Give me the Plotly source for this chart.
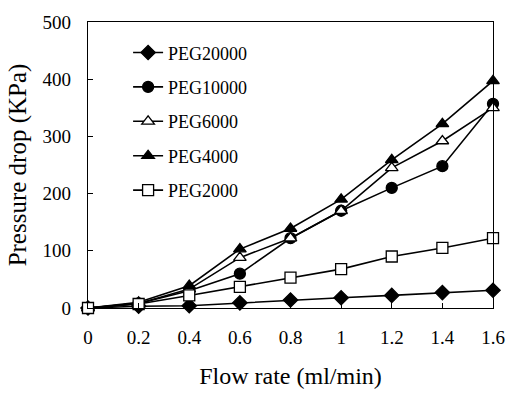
import plotly.graph_objects as go

flow = [0, 0.2, 0.4, 0.6, 0.8, 1.0, 1.2, 1.4, 1.6]
peg20000 = [0, 3, 4, 9, 14, 18, 22, 27, 31]
peg10000 = [0, 8, 30, 60, 122, 170, 210, 248, 357]
peg6000 = [0, 8, 33, 88, 122, 170, 245, 292, 350]
peg4000 = [0, 10, 39, 103, 139, 190, 259, 322, 397]
peg2000 = [0, 7, 22, 37, 53, 68, 90, 105, 122]

x_ticks = [0, 0.2, 0.4, 0.6, 0.8, 1, 1.2, 1.4, 1.6]
x_ticktext = ["0", "0.2", "0.4", "0.6", "0.8", "1", "1.2", "1.4", "1.6"]
y_ticks = [0, 100, 200, 300, 400, 500]

series = [
    ("PEG20000", peg20000, "diamond", "black", 11),
    ("PEG10000", peg10000, "circle", "black", 11),
    ("PEG6000", peg6000, "triangle-up", "white", 11),
    ("PEG4000", peg4000, "triangle-up", "black", 11),
    ("PEG2000", peg2000, "square", "white", 11),
]

fig = go.Figure()
for name, ys, sym, fill, size in series:
    fig.add_trace(go.Scatter(
        x=flow, y=ys, name=name, mode="lines+markers",
        line=dict(color="black", width=1.6),
        marker=dict(symbol=sym, color=fill, size=size,
                    line=dict(color="black", width=1.3)),
        cliponaxis=False, legendgroup=name,
    ))

font_family = "Liberation Serif, Times New Roman, serif"
fig.update_layout(
    width=517, height=398,
    margin=dict(l=88, r=13, t=16, b=90),
    paper_bgcolor="white", plot_bgcolor="white",
    font=dict(family=font_family, color="black", size=19),
    showlegend=True,
    legend=dict(
        x=0.099, y=0.957, xanchor="left", yanchor="top",
        bgcolor="rgba(0,0,0,0)", font=dict(size=18, family=font_family),
        tracegroupgap=8, itemwidth=30,
    ),
    xaxis=dict(
        range=[0, 1.6], tickvals=x_ticks, ticktext=x_ticktext,
        ticks="inside", ticklen=5, tickcolor="black",
        showline=True, linecolor="black", linewidth=1.3, mirror=True,
        showgrid=False, zeroline=False,
        tickfont=dict(size=19), ticklabelstandoff=12,
        title=dict(text="Flow rate (ml/min)", font=dict(size=24), standoff=20),
    ),
    yaxis=dict(
        range=[0, 500], tickvals=y_ticks,
        ticks="inside", ticklen=5, tickcolor="black",
        showline=True, linecolor="black", linewidth=1.3, mirror=True,
        showgrid=False, zeroline=False,
        tickfont=dict(size=19), ticklabelstandoff=12,
        title=dict(text="Pressure drop (KPa)", font=dict(size=25), standoff=8),
    ),
)

fig.write_html("out.html")
